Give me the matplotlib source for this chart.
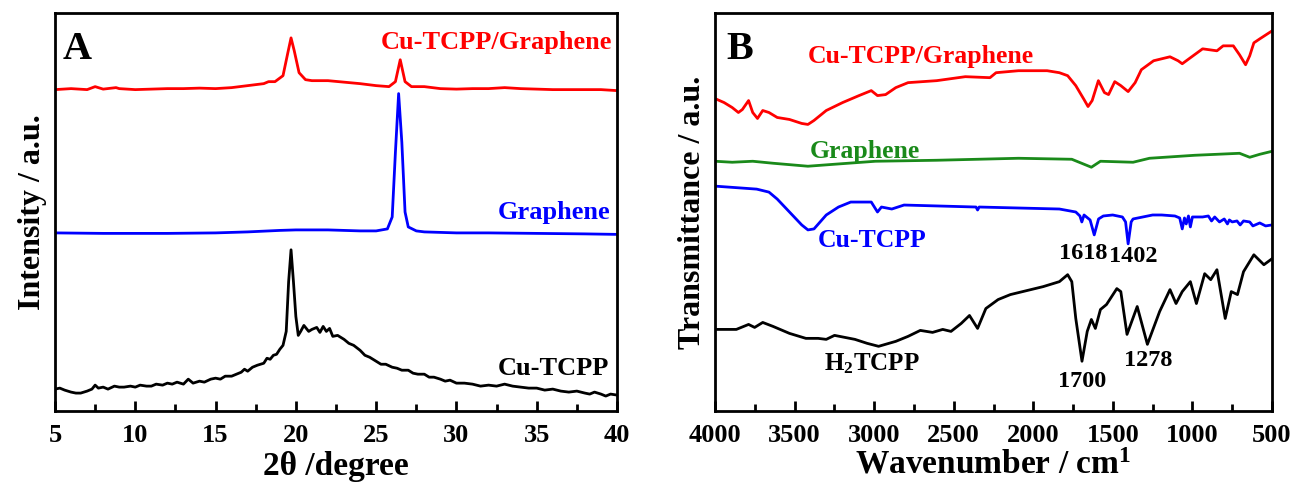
import numpy as np
import matplotlib
matplotlib.use("Agg")
import matplotlib.pyplot as plt
from matplotlib.ticker import MultipleLocator

plt.rcParams["font.family"] = "Liberation Serif"
plt.rcParams["font.weight"] = "bold"
plt.rcParams["mathtext.fontset"] = "custom"
plt.rcParams["mathtext.rm"] = "Liberation Serif:bold"
plt.rcParams["mathtext.bf"] = "Liberation Serif:bold"
plt.rcParams["mathtext.it"] = "Liberation Serif:bold"

# --- Panel A: XRD (offset intensities, arbitrary units) ---
xrd_comp_x = [5, 6, 7, 7.5, 8, 8.8, 9, 10, 11, 12, 13, 14, 15, 16, 17, 18, 18.3, 18.7,
              19.2, 19.5, 19.7, 19.9, 20.2, 20.6, 21, 22, 23, 24, 25, 25.8, 26.2, 26.5,
              26.8, 27.2, 28, 29, 30, 31, 32, 33, 34, 35, 36, 37, 38, 39, 40]
xrd_comp_y = [323, 324, 323, 326, 323.5, 325, 324, 323, 323.5, 324, 324, 324.5, 324, 325,
              327, 329, 331, 331, 337, 360, 375, 362, 340, 333, 332, 332, 330.5, 329, 327,
              326, 331, 353, 331, 326, 326, 324, 323.5, 324, 324, 325, 324, 323.5, 323,
              323, 323, 323, 322]

xrd_gr_x = [5, 8, 10, 12, 15, 17, 19, 20, 21, 22, 23, 24, 25, 25.7, 26.0, 26.2, 26.4,
            26.6, 26.8, 27.0, 27.5, 28, 30, 32, 35, 38, 40]
xrd_gr_y = [179, 178.5, 178.5, 178.5, 179, 180, 181.5, 182, 182, 182, 181.5, 181, 181,
            183, 195, 260, 319, 270, 200, 185, 181, 180, 179, 179, 178.5, 178, 177.5]

xrd_cu_x = [5, 5.3, 5.6, 6, 6.3, 6.6, 7, 7.3, 7.5, 7.7,
            8, 8.3, 8.7, 9, 9.3, 9.7, 10, 10.3, 10.7, 11,
            11.3, 11.7, 12, 12.3, 12.6, 13, 13.3, 13.6, 14, 14.3,
            14.7, 15, 15.3, 15.6, 16, 16.3, 16.6, 16.8, 17, 17.3,
            17.6, 18, 18.2, 18.4, 18.6, 18.8, 19.0, 19.2, 19.4, 19.55,
            19.7, 19.85, 20.0, 20.15, 20.3, 20.5, 20.8, 21.0, 21.3, 21.5,
            21.7, 21.9, 22.1, 22.3, 22.6, 23, 23.3, 23.6, 24, 24.3,
            24.6, 25, 25.3, 25.6, 26, 26.3, 26.6, 27, 27.3, 27.6,
            28, 28.3, 28.6, 29, 29.3, 29.6, 30, 30.5, 31, 31.5,
            32, 32.5, 33, 33.5, 34, 34.5, 35, 35.5, 36, 36.5,
            37, 37.5, 38, 38.3, 38.6, 39, 39.3, 39.6, 40]
xrd_cu_y = [22, 23, 21, 19, 18, 18, 20, 22, 26, 23,
            24, 22, 25, 24, 24, 25, 24, 26, 25, 25,
            27, 26, 28, 27, 29, 27, 32, 28, 30, 29,
            32, 33, 32, 35, 35, 37, 39, 42, 40, 44,
            46, 48, 53, 52, 56, 57, 62, 66, 80, 130,
            162, 130, 95, 76, 80, 86, 80, 82, 84, 79,
            85, 80, 83, 75, 76, 72, 68, 66, 61, 56,
            54, 50, 47, 47, 44, 43, 41, 41, 38, 37,
            37, 34, 34, 32, 30, 31, 28, 28, 27, 25,
            26, 25, 27, 25, 24, 23, 23, 21, 22, 20,
            19, 20, 18, 17, 19, 17, 15, 17, 16]

# --- Panel B: FTIR (offset transmittance, arbitrary units) ---
ir_comp_w = [4000, 3943, 3892, 3853, 3828, 3789, 3763, 3733, 3700, 3661, 3609, 3532, 3455,
             3416, 3378, 3301, 3198, 3095, 3018, 2979, 2928, 2864, 2787, 2607, 2427, 2272,
             2234, 2093, 1913, 1836, 1784, 1733, 1681, 1656, 1630, 1591, 1553, 1527, 1488,
             1450, 1404, 1360, 1321, 1244, 1141, 1090, 1064, 1013, 936, 846, 807, 743, 704,
             666, 640, 614, 577, 500]
ir_comp_t = [314, 310, 305, 300, 303, 312, 300, 294, 302, 300, 295, 293, 289, 288, 292,
             302, 310, 317, 322, 317, 318, 325, 330, 332, 336, 335, 340, 342, 342, 340,
             337, 327, 313, 306, 312, 332, 320, 318, 331, 327, 321, 330, 343, 352, 356,
             352, 349, 355, 364, 362, 367, 367, 358, 348, 357, 370, 374, 382]

ir_gr_w = [4000, 3892, 3763, 3635, 3416, 3249, 2992, 2607, 2093, 1758, 1681, 1635, 1578,
           1373, 1270, 987, 704, 640, 577, 500]
ir_gr_t = [251, 250, 251, 249, 246, 248, 251, 252, 254, 253, 248, 245, 251, 250, 254,
           257, 259, 255, 258, 261]

ir_cu_w = [4000, 3738, 3661, 3609, 3532, 3455, 3416, 3378, 3301, 3224,
           3147, 3018, 2979, 2954, 2889, 2812, 2360, 2350, 2340, 1836,
           1733, 1707, 1695, 1681, 1643, 1617, 1590, 1560, 1501, 1440,
           1420, 1404, 1385, 1373, 1250, 1193, 1110, 1080, 1064, 1050,
           1039, 1025, 1013, 1000, 936, 900, 880, 860, 830, 800,
           780, 768, 750, 720, 700, 679, 640, 620, 577, 540, 500]
ir_cu_t = [226, 223, 220, 213, 200, 187, 182, 183, 197, 205,
           210, 210, 200, 205, 203, 207, 205, 202, 205, 203,
           200, 196, 190, 197, 192, 177, 193, 196, 197, 195,
           190, 168, 190, 193, 197, 197, 196, 194, 183, 194,
           188, 196, 185, 195, 195, 196, 191, 195, 190, 193,
           188, 192, 190, 191, 187, 191, 190, 186, 189, 186, 187]

ir_h2_w = [4000, 3866, 3789, 3751, 3700, 3635, 3532, 3429, 3352, 3301, 3249, 3121, 3044,
           2972, 2864, 2787, 2710, 2633, 2569, 2517, 2453, 2401, 2350, 2298, 2221, 2144,
           2041, 1938, 1836, 1784, 1758, 1733, 1694, 1661, 1635, 1610, 1578, 1540, 1475,
           1450, 1411, 1347, 1283, 1206, 1141, 1103, 1064, 1013, 975, 923, 885, 846, 794,
           756, 717, 679, 614, 551, 500]
ir_h2_t = [82, 82, 87, 84, 89, 85, 78, 73, 73, 72, 76, 72, 68, 65, 70, 75, 81, 79, 82,
           80, 88, 96, 83, 103, 112, 117, 121, 125, 130, 137, 130, 93, 50, 80, 92, 83,
           102, 107, 123, 120, 77, 105, 67, 100, 122, 108, 120, 130, 108, 138, 132, 142,
           93, 120, 117, 140, 157, 147, 153]

fig = plt.figure(figsize=(12.9, 4.83), dpi=100)
axA = fig.add_axes([55 / 1290, 72 / 483, 562 / 1290, 398 / 483])
axB = fig.add_axes([715 / 1290, 72 / 483, 557 / 1290, 398 / 483])

lw = 2.0
axA.plot(xrd_comp_x, xrd_comp_y, color="red", lw=lw)
axA.plot(xrd_gr_x, xrd_gr_y, color="blue", lw=lw)
axA.plot(xrd_cu_x, xrd_cu_y, color="black", lw=lw)
axA.set_xlim(5, 40)
axA.set_ylim(0, 400)
axA.xaxis.set_major_locator(MultipleLocator(5))
axA.xaxis.set_minor_locator(MultipleLocator(2.5))
axA.set_yticks([])
axA.set_xlabel("2θ /degree", fontsize=24, fontweight="bold", labelpad=3)
axA.set_ylabel("Intensity / a.u.", fontsize=23, fontweight="bold", labelpad=6)
axA.text(39.7, 370, "Cu-TCPP/Graphene", color="red", fontsize=19, ha="right", va="center")
axA.text(39.6, 200, "Graphene", color="blue", fontsize=19, ha="right", va="center")
axA.text(39.5, 43, "Cu-TCPP", color="black", fontsize=19, ha="right", va="center")
axA.text(5.5, 363, "A", fontsize=29, ha="left", va="center")

axB.plot(ir_comp_w, ir_comp_t, color="red", lw=lw)
axB.plot(ir_gr_w, ir_gr_t, color="#1a8a1a", lw=lw)
axB.plot(ir_cu_w, ir_cu_t, color="blue", lw=lw)
axB.plot(ir_h2_w, ir_h2_t, color="black", lw=lw)
axB.set_xlim(4000, 500)
axB.set_ylim(0, 400)
axB.xaxis.set_major_locator(MultipleLocator(500))
axB.xaxis.set_minor_locator(MultipleLocator(250))
axB.set_yticks([])
axB.set_xlabel(r"Wavenumber / cm$^{1}$", fontsize=24, fontweight="bold", labelpad=2)
axB.set_ylabel("Transmittance / a.u.", fontsize=23, fontweight="bold", labelpad=6)
axB.text(3416, 356, "Cu-TCPP/Graphene", color="red", fontsize=18.5, ha="left", va="center")
axB.text(3404, 261, "Graphene", color="#1a8a1a", fontsize=18.5, ha="left", va="center")
axB.text(3352, 171, "Cu-TCPP", color="blue", fontsize=18.5, ha="left", va="center")
axB.text(3314, 48, r"H$_{2}$TCPP", color="black", fontsize=18, ha="left", va="center")
axB.text(1686, 158, "1618", fontsize=17.5, ha="center", va="center")
axB.text(1373, 155, "1402", fontsize=17.5, ha="center", va="center")
axB.text(1694, 30, "1700", fontsize=17.5, ha="center", va="center")
axB.text(1275, 51, "1278", fontsize=17.5, ha="center", va="center")
axB.text(3930, 363, "B", fontsize=29, ha="left", va="center")

for ax in (axA, axB):
    for s in ax.spines.values():
        s.set_linewidth(2)
    ax.tick_params(axis="x", which="both", direction="in", labelsize=19, width=2,
                   pad=9, top=False)
    ax.tick_params(axis="x", which="major", length=7)
    ax.tick_params(axis="x", which="minor", length=5)
    for lab in ax.get_xticklabels():
        lab.set_fontweight("bold")

fig.savefig("out.png", dpi=100)
